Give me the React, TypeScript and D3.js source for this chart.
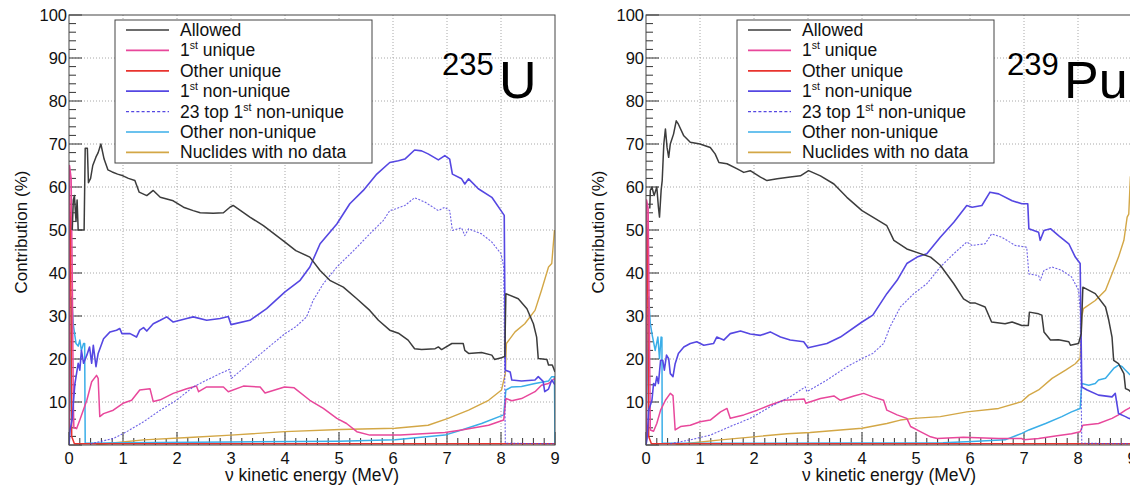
import React from "react";
import * as d3 from "d3";

type P = [number, number];

// ---------- data: 235U ----------
const u235Allowed: P[] = [[0.06,50],[0.08,57],[0.1,58],[0.13,52],[0.15,57],[0.17,50],[0.28,50],[0.3,69],[0.34,69],[0.36,61],[0.4,62],[0.44,65],[0.5,67],[0.54,68],[0.59,70],[0.65,66.5],[0.72,64],[0.8,63.5],[0.9,63],[1.0,62.6],[1.1,62],[1.22,61.5],[1.3,58.8],[1.44,58],[1.56,59.2],[1.69,57.6],[1.93,56.8],[2.12,55.3],[2.3,54.5],[2.43,54],[2.67,53.9],[2.86,54],[2.98,55.3],[3.04,55.7],[3.35,53],[3.6,51],[4.0,47.2],[4.2,45.2],[4.46,43.7],[4.65,40.6],[4.83,38.3],[5.08,36.7],[5.33,34],[5.57,31.3],[5.73,29],[5.94,26.7],[6.1,26],[6.28,24.4],[6.4,22.4],[6.53,22.2],[6.78,22.4],[6.84,22.8],[6.9,22.2],[7.09,23.6],[7.3,23.6],[7.33,22],[7.4,21.3],[7.64,21.5],[7.83,20.9],[7.88,19.9],[8.01,20.3],[8.07,20.6],[8.09,35.2],[8.32,34],[8.48,31.7],[8.6,28.2],[8.66,25.1],[8.69,20.1],[8.85,19.9],[8.88,18.6],[8.95,18.6],[9.0,17]];
const u235Unique1: P[] = [[0,0],[0.01,65],[0.04,62],[0.06,40],[0.08,10],[0.09,4],[0.14,3.8],[0.2,5.8],[0.33,10.4],[0.42,14.7],[0.51,16.2],[0.54,15.5],[0.57,6.6],[0.64,7.3],[0.82,8.1],[1.0,9.7],[1.16,10.4],[1.31,12.8],[1.5,13.1],[1.56,10.1],[1.69,10.5],[1.93,12],[2.18,13.1],[2.36,13.7],[2.4,12.4],[2.55,13.5],[2.86,13.5],[2.95,12.4],[3.23,13.7],[3.54,13.5],[3.63,12.1],[3.99,13.5],[4.17,13.3],[4.46,10.4],[4.71,8.5],[4.96,6.2],[5.14,5],[5.33,3.1],[5.57,2.3],[6.13,2.3],[6.96,2.9],[7.27,3.5],[7.77,4.6],[8.05,5.8],[8.09,10.8],[8.2,10.3],[8.38,10.8],[8.63,12.4],[8.75,13.9],[8.88,14.3],[9.0,15.5]];
const u235OtherUnique: P[] = [[0,0],[0.01,58],[0.03,50],[0.05,2],[0.1,0.3],[9,0.3]];
const u235NonUnique1: P[] = [[0,0],[0.02,3.5],[0.06,6],[0.08,9.7],[0.11,14.3],[0.17,19],[0.2,17.4],[0.23,22],[0.27,19],[0.33,20.9],[0.38,22.8],[0.42,19],[0.45,23.2],[0.5,18.2],[0.54,21.3],[0.64,24.7],[0.76,26.3],[0.88,26.7],[0.94,27.1],[0.98,25.9],[1.13,25.9],[1.25,25.1],[1.31,26.7],[1.38,27.3],[1.44,26.5],[1.56,28.2],[1.69,29],[1.81,29.8],[1.93,28.6],[2.18,29.4],[2.3,29.8],[2.55,29],[2.8,29.4],[2.95,29.9],[3.0,28],[3.35,29],[3.66,31.7],[4.0,35.6],[4.28,38.3],[4.46,41.4],[4.65,46.8],[4.96,51.4],[5.2,56.1],[5.45,59.2],[5.7,63],[5.94,65.7],[6.1,66.1],[6.22,66.5],[6.4,68.6],[6.53,68.4],[6.65,67.7],[6.84,66.3],[6.96,67.3],[7.05,66.5],[7.1,63],[7.27,61.9],[7.33,60.7],[7.4,61.9],[7.58,59.6],[7.83,57.6],[8.0,54.5],[8.06,53.4],[8.08,17.4],[8.17,17],[8.2,15.1],[8.38,14.9],[8.63,15.1],[8.69,15.9],[8.78,14.8],[8.81,12.4],[8.88,13],[8.94,15.1],[9.0,14]];
const u235Top23: P[] = [[0.4,0.3],[0.82,1.5],[1.07,3.1],[1.38,5.4],[1.69,8.1],[1.99,10.4],[2.3,13.5],[2.55,15.1],[2.8,16.6],[2.97,17.6],[3.01,15.5],[3.48,20.5],[4.0,25.9],[4.2,27.5],[4.4,29.8],[4.52,33.6],[4.71,37.5],[4.96,41.4],[5.27,45.2],[5.57,49.1],[5.82,52.2],[5.94,54.5],[6.04,54.9],[6.22,55.7],[6.4,57.5],[6.59,56.5],[6.84,54.5],[6.96,55.3],[7.05,54.5],[7.1,49.9],[7.27,50.5],[7.33,48.7],[7.4,50.3],[7.64,49.1],[7.83,47.2],[8.0,44.5],[8.05,41.4],[8.08,0.4],[9.0,0.3]];
const u235OtherNonUnique: P[] = [[0,0],[0.02,10],[0.05,34.4],[0.08,28],[0.13,23.6],[0.17,23],[0.2,24.4],[0.23,22],[0.27,23.6],[0.29,23.6],[0.3,0.4],[1.0,0.5],[3.0,0.7],[5.0,0.9],[6.04,1.2],[6.96,2.3],[7.27,3.5],[7.64,5],[8.05,7],[8.09,12.8],[8.2,13.5],[8.38,13.6],[8.63,14.3],[8.88,14.9],[8.94,15.9],[8.99,15.9],[9.0,0]];
const u235NoData: P[] = [[0.5,0],[0.76,0.4],[1.38,1.2],[2.3,1.8],[3.0,2.3],[4.0,3.1],[5.02,3.6],[6.04,3.9],[6.65,4.6],[7.02,6.2],[7.4,8.1],[7.77,10.4],[8.01,12.8],[8.08,16.6],[8.1,23.6],[8.26,26.3],[8.44,28.2],[8.63,31.3],[8.75,36],[8.88,41.4],[8.94,42.2],[8.99,50]];

// ---------- data: 239Pu ----------
const pu239Allowed: P[] = [[0.07,55],[0.08,59.2],[0.11,60],[0.15,58],[0.2,60],[0.23,55.3],[0.25,53],[0.28,59.2],[0.3,61.5],[0.33,70],[0.36,73.5],[0.39,69.2],[0.42,66.9],[0.45,70],[0.51,72.3],[0.56,75.4],[0.6,74.6],[0.7,71.9],[0.82,70.4],[1.0,70],[1.19,69.2],[1.28,67.7],[1.35,65.7],[1.5,65.4],[1.69,64.2],[1.81,63.4],[1.93,63.8],[2.12,62.3],[2.24,61.5],[2.43,61.9],[2.67,62.3],[2.86,62.6],[3.01,63.8],[3.23,62.6],[3.48,60.7],[3.72,57.6],[4.0,54.5],[4.2,53],[4.46,51],[4.59,47.6],[4.83,45.6],[5.08,44.5],[5.27,43.7],[5.45,41.8],[5.7,37.5],[5.88,34],[6.01,33],[6.1,33],[6.28,32.1],[6.4,28.6],[6.65,28.2],[6.78,28.6],[6.96,27.8],[7.08,27.8],[7.1,30.9],[7.27,30.5],[7.33,30.2],[7.37,26.3],[7.49,24.4],[7.64,24.5],[7.83,24],[7.86,23.2],[8.01,23.6],[8.06,25.9],[8.09,36.7],[8.32,35.2],[8.51,32.1],[8.57,29],[8.63,25.1],[8.66,19.7],[8.75,18.9],[8.85,16.6],[8.88,13.1],[8.94,12.8],[9.0,12]];
const pu239Unique1: P[] = [[0,0],[0.01,57],[0.04,55],[0.06,30],[0.08,3.5],[0.14,3.2],[0.2,5],[0.27,8.1],[0.36,10.4],[0.45,12],[0.5,11.5],[0.54,3.5],[0.64,4.3],[0.82,4.6],[1.0,5.4],[1.19,5.8],[1.38,7.7],[1.5,8.5],[1.56,6.2],[1.81,7],[2.06,8.1],[2.3,9.3],[2.55,10.4],[2.8,10.6],[2.93,10.7],[2.96,9.7],[3.23,10.8],[3.48,11.4],[3.6,10.4],[3.85,11.4],[4.03,12],[4.2,11.2],[4.4,10.4],[4.46,8.1],[4.65,7],[4.83,6.2],[4.9,4.3],[5.08,3.1],[5.27,1.9],[5.39,1.5],[5.88,1.8],[6.53,1.5],[6.96,1.5],[7.0,1.2],[7.27,1.5],[7.58,2.1],[7.88,2.6],[8.04,3.1],[8.09,4.6],[8.38,5],[8.63,6.2],[8.75,7],[8.88,8.1],[8.94,8.5],[9.0,9]];
const pu239OtherUnique: P[] = [[0,0],[0.01,55],[0.03,45],[0.05,2],[0.1,0.3],[9,0.3]];
const pu239NonUnique1: P[] = [[0,0],[0.02,1.5],[0.05,8.1],[0.11,10.4],[0.14,14.3],[0.17,13.8],[0.2,15.9],[0.23,14.3],[0.27,19.7],[0.31,19.7],[0.34,17.4],[0.38,20.9],[0.42,20.1],[0.45,16.6],[0.5,15.9],[0.54,18.9],[0.6,21.3],[0.7,22.8],[0.82,23.6],[0.94,24],[1.07,23.2],[1.25,23.6],[1.31,25.1],[1.44,24.4],[1.56,25.9],[1.75,26.5],[1.93,25.8],[2.12,25.5],[2.3,26.3],[2.49,25.1],[2.67,24.4],[2.92,24],[3.0,22.6],[3.35,23.6],[3.6,25.1],[4.0,28.6],[4.2,30.2],[4.46,35.2],[4.65,38.3],[4.83,42.2],[5.02,43.7],[5.2,44.5],[5.45,48.3],[5.7,51.8],[5.94,55.7],[6.04,55.3],[6.22,55.7],[6.37,58.8],[6.53,58.4],[6.78,56.8],[6.96,56.1],[7.07,56.1],[7.09,50.3],[7.27,49.5],[7.3,47.6],[7.37,49.9],[7.49,50.3],[7.64,48.7],[7.83,46.8],[7.95,43.7],[8.04,42.2],[8.07,13.5],[8.17,12.8],[8.38,11.6],[8.63,11.2],[8.69,12],[8.75,7.3],[8.88,6.6],[8.94,6.2],[9.0,6]];
const pu239Top23: P[] = [[0.45,0.3],[0.82,1.2],[1.19,2.3],[1.56,4.3],[1.93,6.2],[2.3,8.9],[2.67,11.2],[2.95,13.5],[2.98,12.4],[3.35,15.1],[3.72,18.2],[4.0,20.1],[4.2,21.3],[4.4,23.6],[4.52,27.5],[4.71,32.1],[4.96,35.2],[5.2,37.5],[5.45,41.4],[5.7,44.5],[5.94,47.2],[6.04,46.4],[6.28,46.8],[6.4,49.1],[6.59,48.3],[6.84,46.4],[7.05,46],[7.09,39.8],[7.27,39.4],[7.3,38.3],[7.37,40.6],[7.52,41.4],[7.7,40.6],[7.88,39.1],[8.01,36],[8.04,31.3],[8.07,0.4],[9,0.3]];
const pu239OtherNonUnique: P[] = [[0,0],[0.03,20],[0.05,34.4],[0.08,28.2],[0.11,25.9],[0.17,22],[0.22,25.1],[0.25,20.1],[0.28,25.1],[0.295,25],[0.3,0.4],[2.0,0.4],[5.5,0.5],[6.04,0.8],[6.65,1.2],[6.96,2.7],[7.09,3.5],[7.4,5],[7.7,6.6],[7.88,7.7],[8.04,8.5],[8.07,14.3],[8.2,13.9],[8.32,14.3],[8.38,15.1],[8.51,15.5],[8.66,17.8],[8.75,18.6],[8.82,18.2],[8.88,17.4],[8.95,16.5],[9,16]];
const pu239NoData: P[] = [[0.55,0],[0.8,0.4],[1.38,1.2],[1.99,1.9],[2.61,2.6],[3.04,2.9],[3.6,3.5],[4.0,3.9],[4.46,5],[4.71,5.8],[4.96,6.2],[5.45,6.6],[5.94,7.7],[6.53,8.5],[6.96,10.1],[7.09,11.6],[7.27,12.8],[7.52,15.5],[7.77,17.4],[7.95,18.9],[8.04,20.1],[8.07,29.8],[8.1,31.7],[8.32,33.6],[8.51,36],[8.63,39.8],[8.75,43.7],[8.85,47.6],[8.91,53],[8.94,53.7],[8.97,62.3],[9.0,64]];

// ---------- labels ----------
const xTicks = [0, 1, 2, 3, 4, 5, 6, 7, 8, 9];
const yTicks = [10, 20, 30, 40, 50, 60, 70, 80, 90, 100];
const xTitle = "ν kinetic energy (MeV)";
const yTitle = "Contribution (%)";

const seriesKeys = ["noData", "otherNonUnique", "otherUnique", "unique1", "top23", "nonUnique1", "allowed"];
const legendItems: { key: string; parts: [string, string, string] }[] = [
  { key: "allowed", parts: ["Allowed", "", ""] },
  { key: "unique1", parts: ["1", "st", " unique"] },
  { key: "otherUnique", parts: ["Other unique", "", ""] },
  { key: "nonUnique1", parts: ["1", "st", " non-unique"] },
  { key: "top23", parts: ["23 top 1", "st", " non-unique"] },
  { key: "otherNonUnique", parts: ["Other non-unique", "", ""] },
  { key: "noData", parts: ["Nuclides with no data", "", ""] },
];

const styles: Record<string, { color: string; width: number; dash?: string; opacity?: number }> = {
  allowed: { color: "#3c3c3c", width: 1.5 },
  unique1: { color: "#e8479b", width: 1.5 },
  otherUnique: { color: "#e8332e", width: 1.5 },
  nonUnique1: { color: "#5547e2", width: 1.6 },
  top23: { color: "#5547e2", width: 1.1, dash: "2,1.5", opacity: 0.85 },
  otherNonUnique: { color: "#3aaee8", width: 1.5 },
  noData: { color: "#d3a746", width: 1.4 },
};

const panelsData = [
  {
    id: "u",
    x0: 69,
    mass: "235",
    elem: "U",
    massX: 442,
    elemX: 499,
    legendX: 115,
    series: {
      allowed: u235Allowed, unique1: u235Unique1, otherUnique: u235OtherUnique,
      nonUnique1: u235NonUnique1, top23: u235Top23, otherNonUnique: u235OtherNonUnique, noData: u235NoData,
    } as Record<string, P[]>,
  },
  {
    id: "pu",
    x0: 646,
    mass: "239",
    elem: "Pu",
    massX: 1007,
    elemX: 1064,
    legendX: 737,
    series: {
      allowed: pu239Allowed, unique1: pu239Unique1, otherUnique: pu239OtherUnique,
      nonUnique1: pu239NonUnique1, top23: pu239Top23, otherNonUnique: pu239OtherNonUnique, noData: pu239NoData,
    } as Record<string, P[]>,
  },
];

const W = 1130, H = 485;
const TOP = 15, BOTTOM = 445, PW = 486;
const FONT = "'Liberation Sans', Arial, Helvetica, sans-serif";

function Panel({ p }: { p: typeof panelsData[number] }) {
  const x = d3.scaleLinear().domain([0, 9]).range([p.x0, p.x0 + PW]);
  const y = d3.scaleLinear().domain([0, 100]).range([BOTTOM, TOP]);
  const line = d3.line<P>().x((d) => x(d[0])).y((d) => y(d[1]));
  const minorX = d3.range(0, 9.001, 0.2);
  const minorY = d3.range(0, 100.001, 2);
  const clipId = `clip-${p.id}`;
  const lx = p.legendX;
  const rowH = 20.4;
  return (
    <g>
      <defs>
        <clipPath id={clipId}>
          <rect x={p.x0} y={TOP} width={PW} height={BOTTOM - TOP} />
        </clipPath>
      </defs>
      <rect x={p.x0} y={TOP} width={PW} height={BOTTOM - TOP} fill="#fff" />
      {/* grid */}
      {xTicks.filter((t) => t > 0 && t < 9).map((t) => (
        <line key={"gx" + t} x1={x(t)} x2={x(t)} y1={TOP} y2={BOTTOM} stroke="#a8a8a8" strokeDasharray="1,2" strokeWidth={1} />
      ))}
      {yTicks.filter((t) => t < 100).map((t) => (
        <line key={"gy" + t} x1={p.x0} x2={p.x0 + PW} y1={y(t)} y2={y(t)} stroke="#a8a8a8" strokeDasharray="1,2" strokeWidth={1} />
      ))}
      {/* ticks */}
      {minorX.map((t, i) => {
        const major = i % 5 === 0;
        return <line key={"tx" + i} x1={x(t)} x2={x(t)} y1={BOTTOM} y2={BOTTOM - (major ? 13 : 7)} stroke="#333" strokeWidth={1} />;
      })}
      {minorY.map((t, i) => {
        const major = i % 5 === 0;
        return <line key={"ty" + i} x1={p.x0} x2={p.x0 + (major ? 13 : 7)} y1={y(t)} y2={y(t)} stroke="#333" strokeWidth={1} />;
      })}
      {/* curves */}
      <g clipPath={`url(#${clipId})`}>
        {seriesKeys.map((k) => {
          const s = styles[k];
          return (
            <path key={k} d={line(p.series[k]) || ""} fill="none" stroke={s.color} strokeWidth={s.width}
              strokeDasharray={s.dash} strokeOpacity={s.opacity ?? 1} strokeLinejoin="round" />
          );
        })}
      </g>
      {/* frame */}
      <rect x={p.x0} y={TOP} width={PW} height={BOTTOM - TOP} fill="none" stroke="#444" strokeWidth={1} />
      {/* tick labels */}
      {xTicks.map((t) => (
        <text key={"lx" + t} x={x(t)} y={463.5} textAnchor="middle" fontSize={16.5} fontFamily={FONT} fill="#111">{t}</text>
      ))}
      {yTicks.map((t) => (
        <text key={"ly" + t} x={p.x0 - 2} y={y(t) + 6} textAnchor="end" fontSize={16.5} fontFamily={FONT} fill="#111">{t}</text>
      ))}
      {/* axis titles */}
      <text x={x(4.5)} y={481} textAnchor="middle" fontSize={17.5} fontFamily={FONT} fill="#111">{xTitle}</text>
      <text transform={`translate(${p.x0 - 42},${(TOP + BOTTOM) / 2 + 2}) rotate(-90)`} textAnchor="middle" fontSize={17} fontFamily={FONT} fill="#111">{yTitle}</text>
      {/* nuclide label */}
      <text x={p.massX} y={75} fontSize={31} fontFamily={FONT} fill="#000">{p.mass}</text>
      <text x={p.elemX} y={98} fontSize={52} fontFamily={FONT} fill="#000">{p.elem}</text>
      {/* legend */}
      <rect x={lx} y={20} width={257} height={143} fill="#fff" stroke="#444" strokeWidth={1} />
      {legendItems.map((it, i) => {
        const s = styles[it.key];
        const by = 36 + i * rowH;
        return (
          <g key={it.key}>
            <line x1={lx + 11} x2={lx + 54} y1={by - 6} y2={by - 6} stroke={s.color} strokeWidth={it.key === "top23" ? 1.4 : 1.7}
              strokeDasharray={it.key === "top23" ? "3,2.2" : undefined} />
            <text x={lx + 65} y={by} fontSize={17.5} fontFamily={FONT} fill="#111">
              <tspan>{it.parts[0]}</tspan>
              {it.parts[1] ? <tspan dy={-7} fontSize={10.5}>{it.parts[1]}</tspan> : null}
              {it.parts[1] ? <tspan dy={7}>{it.parts[2]}</tspan> : null}
            </text>
          </g>
        );
      })}
    </g>
  );
}

export default function App() {
  return (
    <svg width={W} height={H} style={{ position: "absolute", left: 0, top: 0, background: "#fff" }}>
      <rect x={0} y={0} width={W} height={H} fill="#fff" />
      {panelsData.map((p) => (
        <Panel key={p.id} p={p} />
      ))}
    </svg>
  );
}
